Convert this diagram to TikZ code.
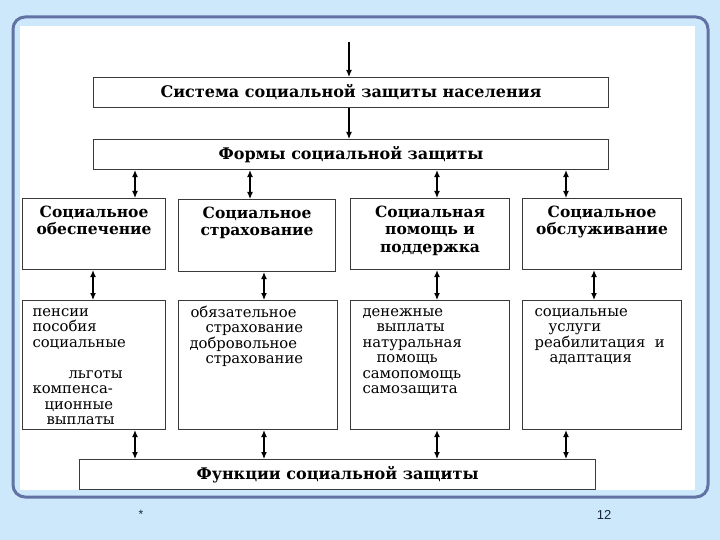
\documentclass[tikz,border=0pt]{standalone}
\usepackage{fontspec}
\setmainfont{DejaVu Serif}
\setsansfont{Liberation Sans}
\usetikzlibrary{arrows.meta,positioning,calc}
\definecolor{slidebg}{HTML}{CCE8FA}
\definecolor{frameline}{HTML}{6272A4}
\definecolor{boxline}{HTML}{3A3A3A}
\definecolor{pagenum}{HTML}{1A2440}
\newcommand{\cellbox}[3]{\parbox[c][#2][t]{#1}{\lineskiplimit=-20pt #3}}
\begin{document}
\begin{tikzpicture}[
  x=1pt, y=-1pt,
  >={Latex[length=7pt,width=6pt]},
  box/.style={draw=boxline, line width=1.1pt, inner sep=0pt, anchor=north west},
  title/.style={box, font=\bfseries\fontsize{16}{18}\selectfont, align=center},
  kind/.style={box, font=\bfseries\fontsize{15.5}{17.5}\selectfont},
  items/.style={box, font=\fontsize{14.8}{15.5}\selectfont},
  flow/.style={->, line width=1.2pt},
  link/.style={<->, line width=1.2pt}
]
  \useasboundingbox (0,0) rectangle (720,540);
  \fill[slidebg] (0,0) rectangle (720,540);
  \draw[frameline, line width=3pt, rounded corners=12pt, fill=slidebg] (13,17) rectangle (708,497);
  \fill[white] (20,26) rectangle (695,490);

  % top two bars
  \node[title, minimum width=515pt, minimum height=30pt] (sys) at (93,77) {Система социальной защиты населения};
  \node[title, minimum width=515pt, minimum height=30pt] (forms) at (93,139) {Формы социальной защиты};

  % forms of protection
  \node[kind] (obesp) at (22,198) {\cellbox{143pt}{71pt}{\centering\vspace*{6.5pt}\strut Социальное\\обеспечение}};
  \node[kind] (strah) at (178,199) {\cellbox{157pt}{72pt}{\centering\vspace*{6.5pt}\strut Социальное\\страхование}};
  \node[kind] (pomosh) at (350,198) {\cellbox{159pt}{71pt}{\centering\vspace*{6.5pt}\strut Социальная\\помощь и\\поддержка}};
  \node[kind] (obsl) at (522,198) {\cellbox{159pt}{71pt}{\centering\vspace*{6.5pt}\strut Социальное\\обслуживание}};

  % contents of each form
  \node[items] (obespL) at (22,300) {\cellbox{143pt}{129pt}{\raggedright\vspace*{5pt}\strut\hspace*{10pt}пенсии\\
    \hspace*{10pt}пособия\\
    \hspace*{10pt}социальные\\[15.5pt]
    \hspace*{46pt}льготы\\
    \hspace*{10pt}компенса-\\
    \hspace*{22pt}ционные\\
    \hspace*{24pt}выплаты}};
  \node[items] (strahL) at (178,300) {\cellbox{159pt}{129pt}{\raggedright\vspace*{5pt}\strut\hspace*{12pt}обязательное\\
    \hspace*{27pt}страхование\\
    \hspace*{11pt}добровольное\\
    \hspace*{27pt}страхование}};
  \node[items] (pomoshL) at (350,300) {\cellbox{159pt}{129pt}{\raggedright\vspace*{5pt}\strut\hspace*{12pt}денежные\\
    \hspace*{26pt}выплаты\\
    \hspace*{12pt}натуральная\\
    \hspace*{26pt}помощь\\
    \hspace*{12pt}самопомощь\\
    \hspace*{12pt}самозащита}};
  \node[items] (obslL) at (522,300) {\cellbox{159pt}{129pt}{\raggedright\vspace*{5pt}\strut\hspace*{12pt}социальные\\
    \hspace*{26pt}услуги\\
    \hspace*{12pt}реабилитация\ \ и\\
    \hspace*{27pt}адаптация}};

  \node[title, minimum width=516pt, minimum height=30pt] (func) at (79,459) {Функции социальной защиты};

  % arrows
  \coordinate (entry) at (349,42);
  \coordinate (colA) at (135,0);
  \coordinate (colB) at (250,0);
  \coordinate (colC) at (437,0);
  \coordinate (colD) at (566,0);
  \coordinate (midA) at (93,0);
  \coordinate (midB) at (264,0);
  \coordinate (midD) at (594,0);

  \draw[flow] (entry) -- (entry |- sys.north);
  \draw[flow] (sys.south -| entry) -- (forms.north -| entry);

  \draw[link] (forms.south -| colA) -- (obesp.north -| colA);
  \draw[link] (forms.south -| colB) -- (strah.north -| colB);
  \draw[link] (forms.south -| colC) -- (pomosh.north -| colC);
  \draw[link] (forms.south -| colD) -- (obsl.north -| colD);

  \draw[link] (obesp.south -| midA) -- (obespL.north -| midA);
  \draw[link] (strah.south -| midB) -- (strahL.north -| midB);
  \draw[link] (pomosh.south -| colC) -- (pomoshL.north -| colC);
  \draw[link] (obsl.south -| midD) -- (obslL.north -| midD);

  \draw[link] (obespL.south -| colA) -- (func.north -| colA);
  \draw[link] (strahL.south -| midB) -- (func.north -| midB);
  \draw[link] (pomoshL.south -| colC) -- (func.north -| colC);
  \draw[link] (obslL.south -| colD) -- (func.north -| colD);

  % footer
  \node[font=\sffamily\fontsize{12}{14}\selectfont, text=pagenum] (star) at (141,514) {*};
  \node[font=\sffamily\fontsize{13}{15}\selectfont, text=pagenum] (page) at (604,515) {12};
\end{tikzpicture}
\end{document}
